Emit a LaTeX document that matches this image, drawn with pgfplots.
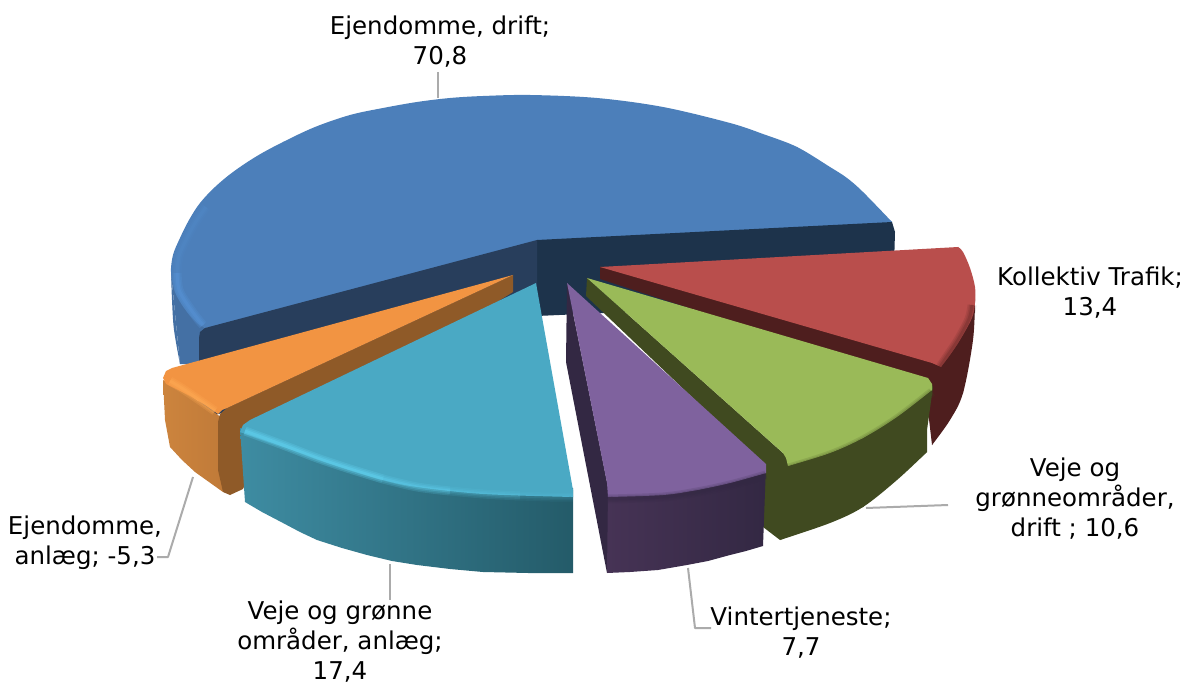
\documentclass[border=0pt]{standalone}
\usepackage{fontspec}
\setmainfont{DejaVu Sans}
\usepackage{pgfplots}
\pgfplotsset{compat=1.18}
\definecolor{bluetop}{HTML}{4C7FBA}
\definecolor{blueside}{HTML}{4470A4}
\definecolor{bluerim}{HTML}{5793D6}
\definecolor{bluedarkL}{HTML}{283E5C}
\definecolor{bluedarkR}{HTML}{1D334B}
\definecolor{redtop}{HTML}{B94E4C}
\definecolor{reddark}{HTML}{4E1E1E}
\definecolor{greentop}{HTML}{9ABA58}
\definecolor{greendark}{HTML}{404A20}
\definecolor{purpletop}{HTML}{7F629E}
\definecolor{purpledark}{HTML}{332843}
\definecolor{purplemid}{HTML}{463355}
\definecolor{orangetop}{HTML}{F29442}
\definecolor{orangerim}{HTML}{FFAB55}
\definecolor{orangeL}{HTML}{CC843E}
\definecolor{orangeR}{HTML}{C07A38}
\definecolor{orangedark}{HTML}{8F5A28}
\definecolor{tealtop}{HTML}{4AA9C4}
\definecolor{tealrim}{HTML}{62D4F2}
\definecolor{tealL}{HTML}{3E8CA2}
\definecolor{tealR}{HTML}{245B69}
\definecolor{leader}{HTML}{ABABAB}
\tikzset{lab/.style={font=\fontsize{24.5}{30}\selectfont, align=center, text=black, inner sep=0pt}}
% flat polygon
\newcommand\face[2]{\addplot[fill=#1, draw=none] coordinates {#2};}
% curved rim of a slice: filled up to its chord
\newcommand\arcface[2]{\addplot[fill=#1, draw=none, smooth] coordinates {#2};}
% soft edge between a top face and its side: colour, strength, points
\newcommand\softrim[3]{%
  \addplot[color=#1, line width=9pt, opacity=#2*0.3, smooth] coordinates {#3};
  \addplot[color=#1, line width=6pt, opacity=#2*0.35, smooth] coordinates {#3};
  \addplot[color=#1, line width=3pt, opacity=#2*0.5, smooth] coordinates {#3};
}
\begin{document}
\begin{tikzpicture}
\begin{axis}[
    width=1190pt, height=684pt, scale only axis,
    xmin=0, xmax=1190, ymin=0, ymax=684, y dir=reverse,
    hide axis, clip=false,
    every axis plot/.append style={line join=round, tension=0.55},
]
\path (rel axis cs:0,0) rectangle (rel axis cs:1,1);

% blue
\arcface{blueside}{(171,272) (172,300) (174,330) (180,364)}
\face{blueside}{(171,272) (180,364) (205,364) (205,328) (171,272)}
\arcface{bluetop}{(205,328) (196,322) (184,308) (175,292) (171,273) (173,255) (180,238) (189,220) (200,203) (215,187) (233,172) (257,156) (283,142) (315,127) (350,115) (383,108) (417,102) (450,98) (483,96) (530,95) (597,98) (663,107) (730,123) (763,134) (797,147) (830,167) (847,178) (863,192) (892,222)}
\face{bluetop}{(537,240) (205,328) (283,142) (530,95) (797,147) (892,222) (537,240)}
\softrim{bluerim}{0.9}{(203,325) (197,318) (187,304) (179,290) (177,273)}
\softrim{bluerim}{0.3}{(177,273) (179,256) (186,240) (195,223) (206,207)}
\face{bluedarkR}{(537,240) (892,222) (895,232) (893,300) (537,316) (537,240)}
\face{bluedarkL}{(537,240) (205,328) (200,332) (199,338) (199,420) (537,316) (537,240)}

% red
\arcface{reddark}{(975,300) (973,340) (963,393) (950,420) (932,445)}
\face{reddark}{(600,267) (600,279) (925,385) (932,445) (963,393) (975,300) (958,260) (600,267)}
\arcface{redtop}{(958,247) (963,252) (970,268) (975,287) (975,303) (972,318) (960,340) (950,355) (941,367)}
\face{redtop}{(600,267) (958,247) (975,295) (941,367) (932,363) (600,267)}
\softrim{reddark}{0.45}{(972,305) (969,319) (958,340) (948,355) (940,367)}

% green
\arcface{greendark}{(927,452) (897,480) (863,507) (830,523) (780,540)}
\face{greendark}{(587,278) (586,296) (760,462) (763,527) (780,540) (863,507) (927,452) (927,430) (933,387) (928,378) (783,453) (587,278)}
\arcface{greentop}{(932,390) (897,417) (863,438) (830,453) (788,466)}
\face{greentop}{(587,278) (928,378) (932,384) (932,390) (863,438) (788,466) (786,458) (783,453) (587,278)}
\softrim{greendark}{0.5}{(932,392) (897,419) (863,440) (830,455) (789,468)}

% purple
\face{purpledark}{(567,283) (566,362) (607,573) (610,497) (567,283)}
\addplot[left color=purplemid, right color=purpledark, draw=none] coordinates {(608,490) (766,465) (763,546) (746,551) (730,555) (708,561) (687,565) (658,570) (630,572) (607,573) (608,490)};
\arcface{purpletop}{(766,473) (730,483) (697,490) (663,495) (608,497)}
\face{purpletop}{(567,283) (766,464) (766,473) (697,490) (608,497) (607,483) (567,283)}
\softrim{purpledark}{0.5}{(766,475) (730,485) (697,492) (663,497) (608,499)}

% orange
\addplot[left color=orangeL, right color=orangeR, draw=none] coordinates {(163,380) (164,400) (165,420) (170,447) (182,460) (195,472) (209,482) (223,492) (225,420) (190,395) (163,380)};
\face{orangedark}{(513,275) (227,408) (220,414) (218,422) (218,470) (223,492) (230,495) (243,489) (260,450) (513,292) (513,275)}
\face{orangetop}{(513,275) (172,368) (166,371) (163,378) (166,384) (190,396) (205,405) (218,414) (222,410) (227,408) (513,275)}
\softrim{orangerim}{0.8}{(170,381) (180,387) (192,395) (205,404) (215,411)}

% teal
\addplot[left color=tealL, right color=tealR, draw=none] coordinates {(240,428) (245,502) (262,512) (283,523) (300,532) (317,540) (342,548) (367,555) (392,561) (417,565) (450,569) (483,572) (528,573) (573,573) (573,488) (483,488) (417,481) (350,464) (283,439) (240,428)};
\arcface{tealtop}{(240,432) (283,445) (317,459) (350,470) (383,480) (417,487) (483,494) (573,497)}
\face{tealtop}{(536,283) (250,420) (243,425) (240,432) (350,470) (573,497) (573,490) (542,317) (536,283)}
\softrim{tealrim}{0.85}{(245,431) (283,445) (317,458) (350,469) (383,479)}
\softrim{tealrim}{0.6}{(383,479) (417,487) (450,491)}
\softrim{tealrim}{0.35}{(450,491) (483,494) (520,496)}
\softrim{tealrim}{0.2}{(520,496) (550,497) (573,497)}

% leader lines
\addplot[color=leader, line width=2pt] coordinates {(438,72) (438,98)};
\addplot[color=leader, line width=2pt] coordinates {(193,477) (168,557) (157,557)};
\addplot[color=leader, line width=2pt] coordinates {(390,564) (390,600)};
\addplot[color=leader, line width=2pt] coordinates {(688,568) (695,628) (711,628)};
\addplot[color=leader, line width=2pt] coordinates {(866,508) (948,505)};

% labels
\node[lab] at (axis cs:440,42) {Ejendomme, drift;\\70,8};
\node[lab] at (axis cs:1090,293) {Kollektiv Trafik;\\13,4};
\node[lab] at (axis cs:1075,499) {Veje og\\grønneområder,\\drift ; 10,6};
\node[lab] at (axis cs:801,633) {Vintertjeneste;\\7,7};
\node[lab] at (axis cs:340,642) {Veje og grønne\\områder, anlæg;\\17,4};
\node[lab] at (axis cs:85,543) {Ejendomme,\\anlæg; -5,3};
\end{axis}
\end{tikzpicture}
\end{document}
